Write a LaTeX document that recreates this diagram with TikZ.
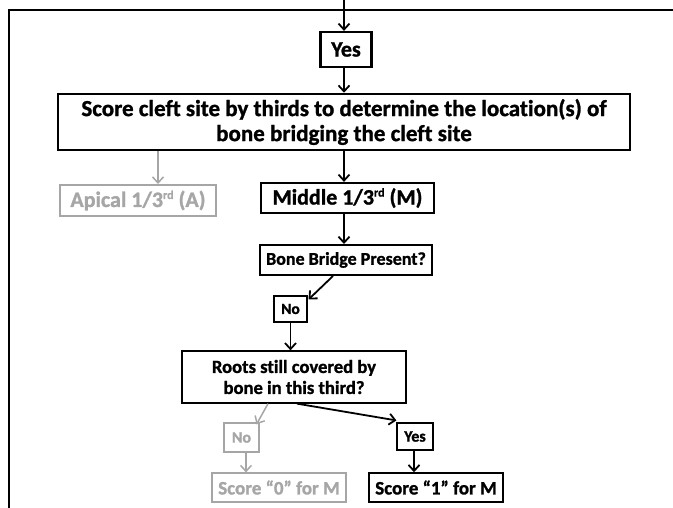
\documentclass[tikz,border=0pt]{standalone}
\usepackage{fontspec}
\setmainfont{Carlito}[Ligatures={NoCommon}, BoldFeatures={FakeBold=1.2}]
\usetikzlibrary{arrows.meta}
\definecolor{grayc}{RGB}{166,166,166}
\newcommand{\rdsup}{\raisebox{0.75ex}{\fontsize{12}{12}\selectfont rd}}
\tikzset{
  box/.style={draw=black, line width=#1, inner sep=0pt, align=center, font=\bfseries},
  box/.default=2pt,
  gbox/.style={draw=grayc, line width=1.2pt, inner sep=0pt, align=center, text=grayc, font=\bfseries},
  arr/.style={-{Straight Barb[length=6pt,width=11pt,line width=1.8pt]}, line width=1.8pt, black},
  garr/.style={-{Straight Barb[length=6pt,width=11pt,line width=1.5pt]}, line width=1.5pt, grayc},
}
\begin{document}
\begin{tikzpicture}[x=1pt,y=-1pt]
\useasboundingbox (0,0) rectangle (673,508);
% frame
\draw[line width=2pt] (9,508) -- (9,10) -- (673,10);
\coordinate (top) at (344,0);
\coordinate (ga) at (158,0);
\coordinate (ma) at (344,0);
\node[box=2.2pt, minimum width=51pt, minimum height=35pt, font=\bfseries\fontsize{22}{24}\selectfont] (yes1) at (346,49.5) {Yes};
\node[box=2.5pt, minimum width=572pt, minimum height=56pt, font=\bfseries\fontsize{23}{25}\selectfont] (main) at (344,122) {Score cleft site by thirds to determine the location(s) of\\bone bridging the cleft site};
\node[gbox, line width=2pt, minimum width=156pt, minimum height=31pt, font=\bfseries\fontsize{22}{24}\selectfont] (apical) at (138,200.5) {Apical 1/3\rdsup{} (A)};
\node[box=2.2pt, minimum width=173pt, minimum height=30pt, font=\bfseries\fontsize{22}{24}\selectfont] (middle) at (347.5,198) {Middle 1/3\rdsup{} (M)};
\node[box=2pt, minimum width=172pt, minimum height=30pt, font=\bfseries\fontsize{18}{20}\selectfont] (bone) at (346,260) {Bone Bridge Present?};
\node[box=1.1pt, minimum width=33pt, minimum height=26pt, font=\bfseries\fontsize{15.5}{17}\selectfont] (no1) at (290.5,309) {No};
\node[box=1.3pt, minimum width=224pt, minimum height=52pt, font=\bfseries\fontsize{18.6}{21}\selectfont] (roots) at (294,377) {Roots still covered by\\bone in this third?};
\node[gbox, minimum width=35pt, minimum height=29pt, font=\bfseries\fontsize{16}{18}\selectfont] (no2) at (241.5,437.5) {No};
\node[box=1.1pt, minimum width=36pt, minimum height=27pt, font=\bfseries\fontsize{16}{18}\selectfont] (yes2) at (415,436.5) {Yes};
\node[gbox, minimum width=134pt, minimum height=29pt, font=\bfseries\fontsize{19}{21}\selectfont] (score0) at (279,487.5) {Score “0” for M};
\node[box=1.5pt, minimum width=134pt, minimum height=29pt, font=\bfseries\fontsize{19}{21}\selectfont] (score1) at (436,487.5) {Score “1” for M};
% connectors
\draw[arr] (top) -- (yes1.north -| top);
\draw[arr] (yes1.south -| top) -- (main.north -| top);
\draw[garr] (main.south -| ga) -- (apical.north -| ga);
\draw[arr] (main.south -| ma) -- (middle.north -| ma);
\draw[arr] (middle.south -| ma) -- (bone.north -| ma);
\draw[arr] ([xshift=-13pt]bone.south) -- ([xshift=1pt,yshift=-4pt]no1.north east);
\draw[arr] (no1.south) -- (roots.north -| no1.south);
\draw[garr] ([xshift=-26pt]roots.south) -- ([xshift=15pt,yshift=-2pt]no2.north);
\draw[arr] ([xshift=3pt]roots.south) -- ([yshift=2pt]yes2.north west);
\draw[garr] (no2.south -| 246,0) -- (score0.north -| 246,0);
\draw[arr] (yes2.south -| 414,0) -- (score1.north -| 414,0);
\end{tikzpicture}
\end{document}
